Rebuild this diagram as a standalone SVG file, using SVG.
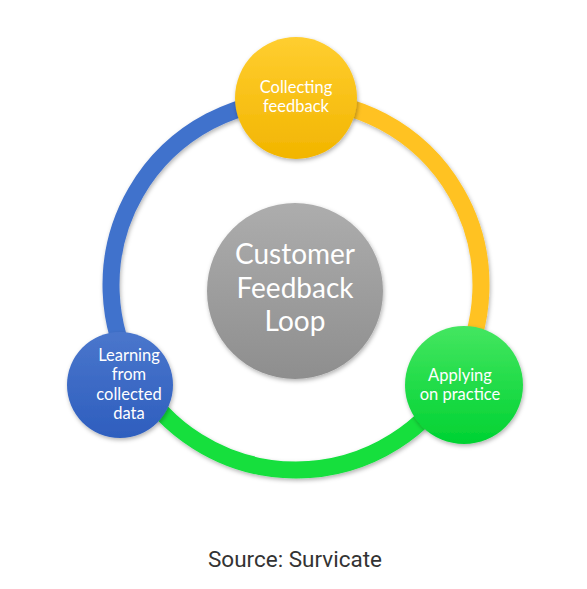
<svg xmlns="http://www.w3.org/2000/svg" width="587" height="589" viewBox="0 0 587 589">
  <defs>
    <filter id="sh" x="-20%" y="-20%" width="140%" height="140%">
      <feDropShadow dx="1" dy="2" stdDeviation="2" flood-color="#000" flood-opacity="0.3"/>
    </filter>
    <linearGradient id="gy" x1="0" y1="0" x2="0" y2="1">
      <stop offset="0" stop-color="#FFCE30"/>
      <stop offset="1" stop-color="#F2B500"/>
    </linearGradient>
    <linearGradient id="gb" x1="0" y1="0" x2="0" y2="1">
      <stop offset="0" stop-color="#4A76CC"/>
      <stop offset="1" stop-color="#2E5EBE"/>
    </linearGradient>
    <linearGradient id="gg" x1="0" y1="0" x2="0" y2="1">
      <stop offset="0" stop-color="#44E660"/>
      <stop offset="1" stop-color="#00D232"/>
    </linearGradient>
    <linearGradient id="gc" x1="0" y1="0" x2="0" y2="1">
      <stop offset="0" stop-color="#ADADAD"/>
      <stop offset="1" stop-color="#8E8E8E"/>
    </linearGradient>
    <style>
      .ring { fill: none; stroke-width: 17; filter: url(#sh); }
      .node { filter: url(#sh); }
      .lbl { font-family: Lato, "Open Sans", sans-serif; fill: #FFFFFF; text-anchor: middle; }
      .sm { font-size: 16.5px; }
      .big { font-size: 28px; }
      .src { font-family: Roboto, "Liberation Sans", sans-serif; font-size: 22.5px; fill: #333333; text-anchor: middle; }
    </style>
  </defs>
  <rect width="587" height="589" fill="#FFFFFF"/>
  <g id="connectors">
    <path class="ring" stroke="#4172CC" d="M 135.8 377.5 A 185 185 0 0 1 296 100"/>
    <path class="ring" stroke="#FFC220" d="M 296 100 A 185 185 0 0 1 456.2 377.5"/>
    <path class="ring" stroke="#12DF3C" d="M 456.2 377.5 A 185 185 0 0 1 135.8 377.5"/>
  </g>
  <g id="center">
    <circle class="node" cx="295" cy="291" r="88" fill="url(#gc)"/>
    <text class="lbl big" x="295" y="264">Customer</text>
    <text class="lbl big" x="295" y="298">Feedback</text>
    <text class="lbl big" x="295" y="331">Loop</text>
  </g>
  <g id="collecting">
    <circle class="node" cx="296" cy="98" r="61" fill="url(#gy)"/>
    <text class="lbl sm" x="296" y="93">Collecting</text>
    <text class="lbl sm" x="296" y="112">feedback</text>
  </g>
  <g id="learning">
    <circle class="node" cx="120" cy="385" r="53" fill="url(#gb)"/>
    <text class="lbl sm" x="129" y="361">Learning</text>
    <text class="lbl sm" x="129" y="380">from</text>
    <text class="lbl sm" x="129" y="400">collected</text>
    <text class="lbl sm" x="129" y="419">data</text>
  </g>
  <g id="applying">
    <circle class="node" cx="464" cy="385" r="59" fill="url(#gg)"/>
    <text class="lbl sm" x="460" y="381">Applying</text>
    <text class="lbl sm" x="460" y="400">on practice</text>
  </g>
  <text class="src" x="295" y="567">Source: Survicate</text>
</svg>
